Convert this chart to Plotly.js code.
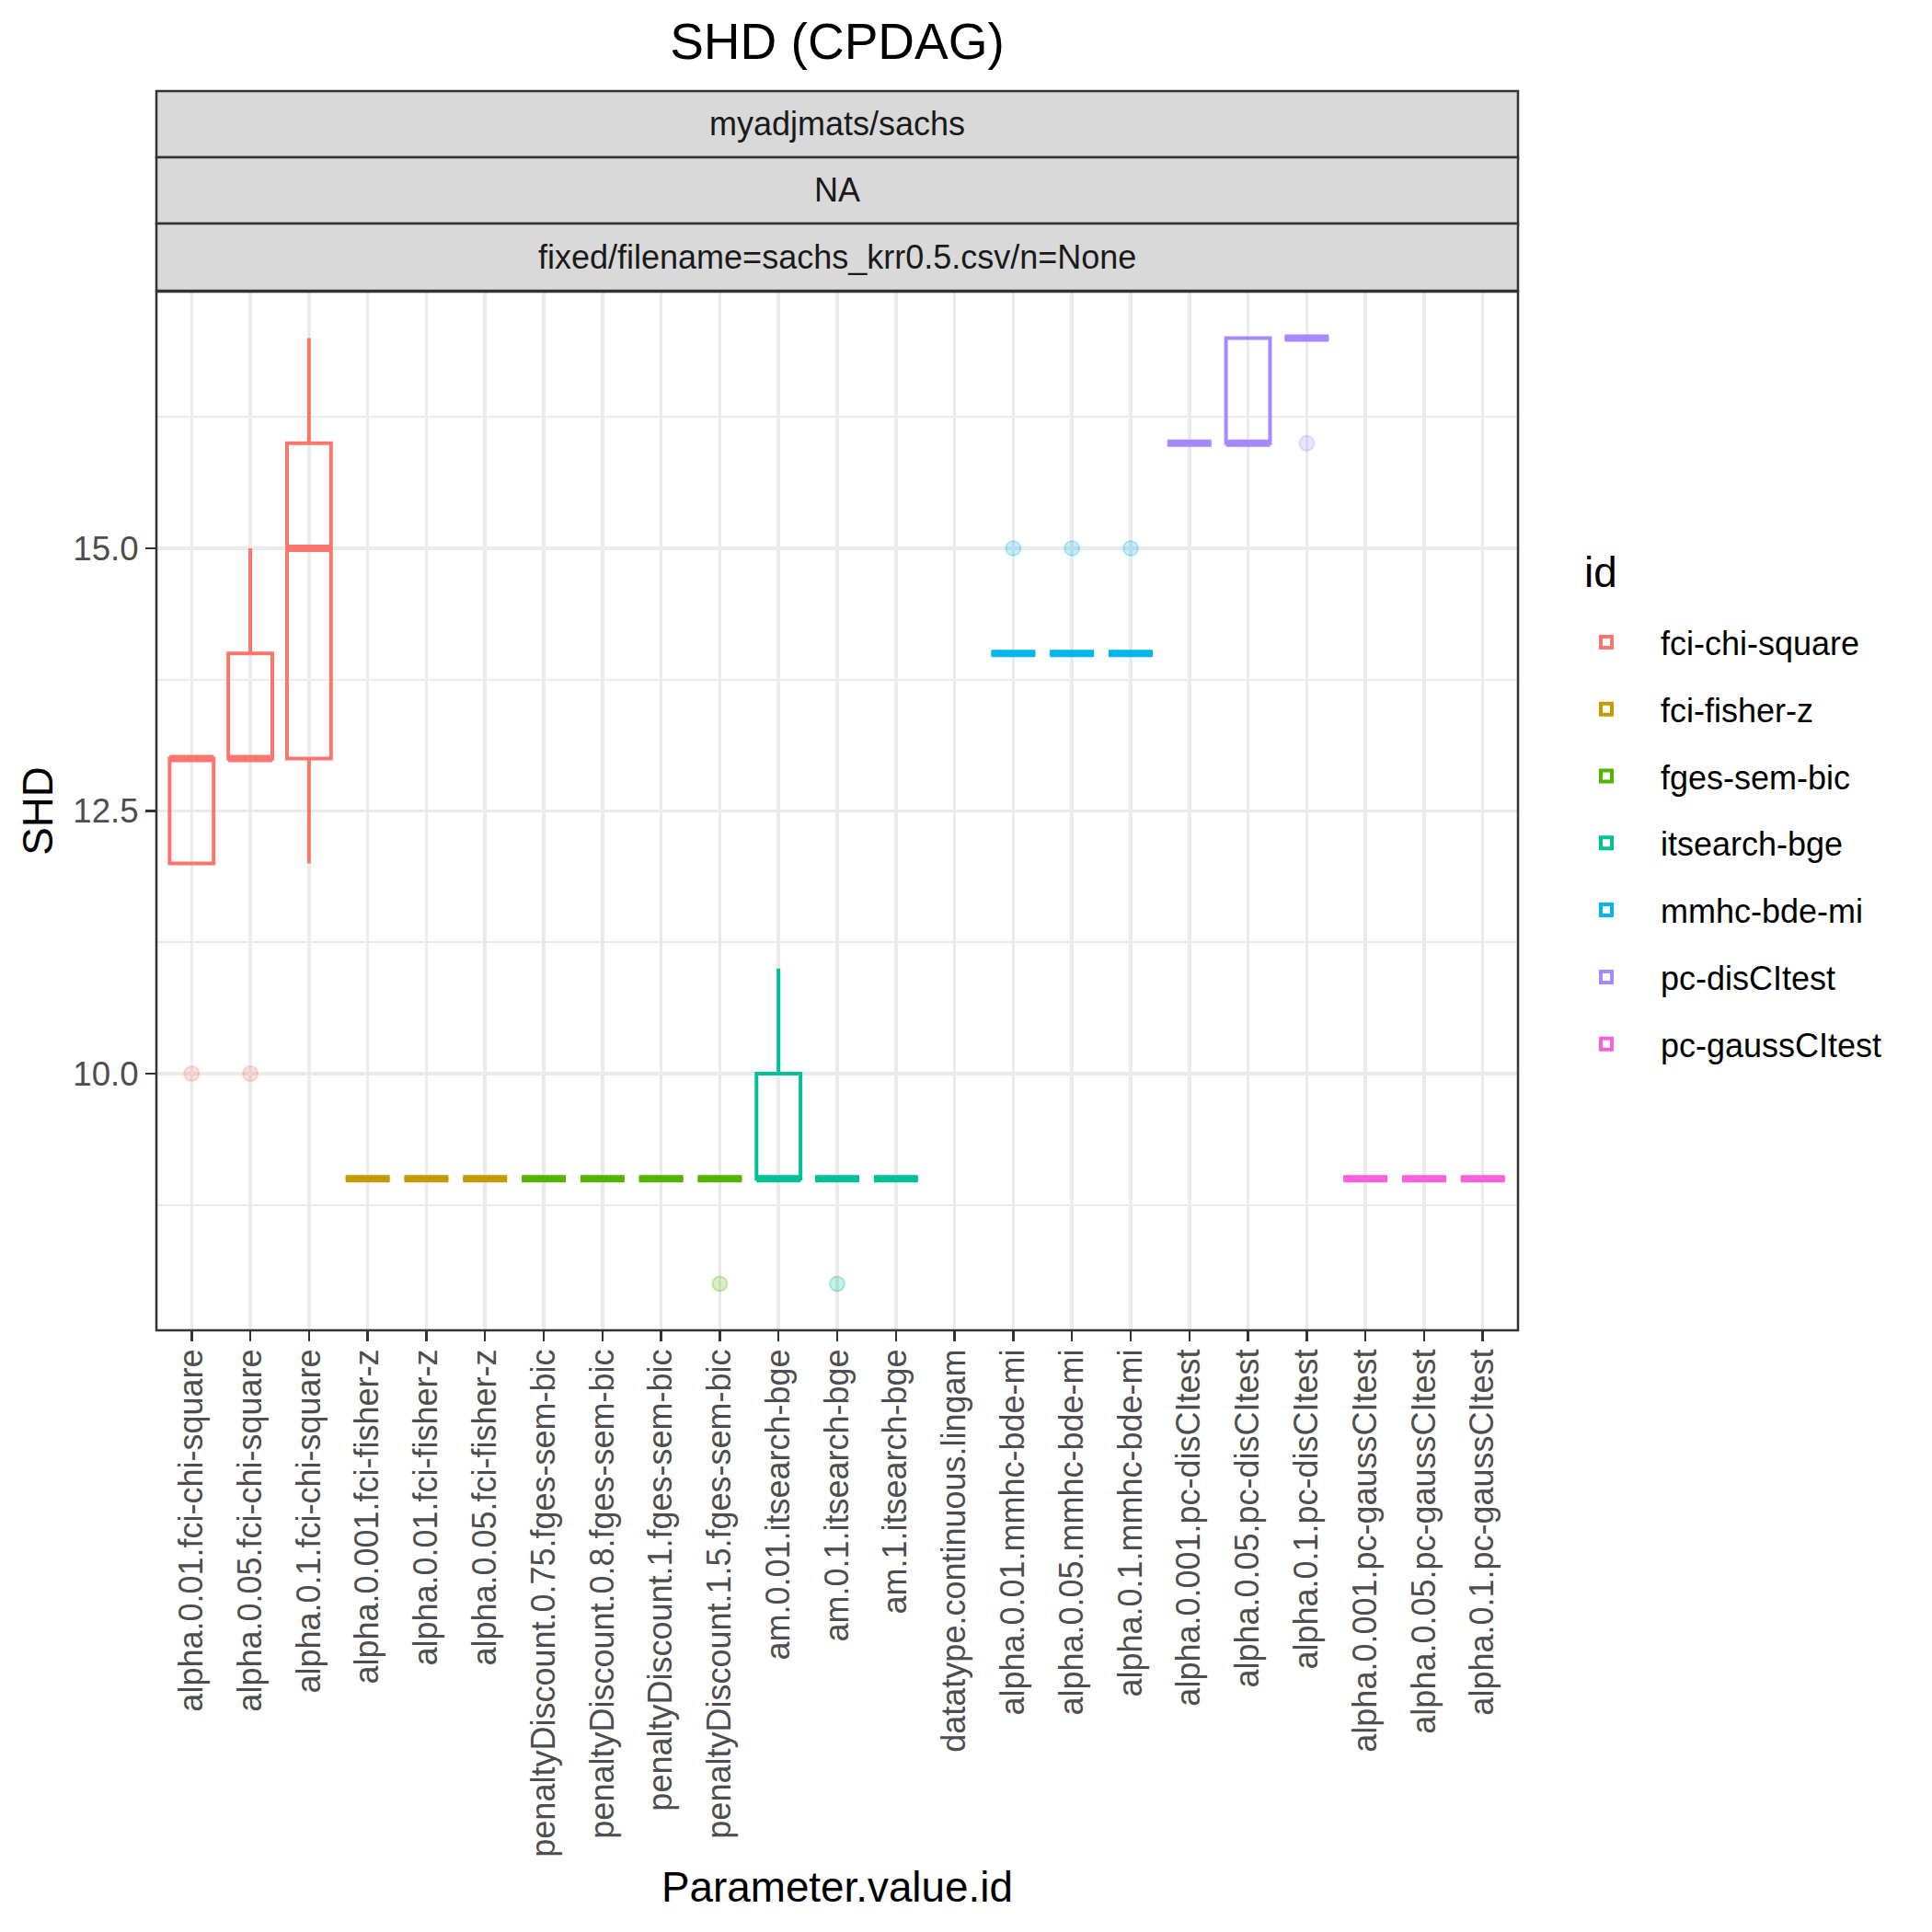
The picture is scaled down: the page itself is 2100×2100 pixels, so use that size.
<!DOCTYPE html>
<html>
<head>
<meta charset="utf-8">
<script src="https://cdn.plot.ly/plotly-3.0.1.min.js"></script>
<style>html,body{margin:0;padding:0;background:#fff;}#chart{width:2100px;height:2100px;}</style>
</head>
<body>
<div id="chart"></div>
<script>
// ---- data ----
const categories = [
  'alpha.0.01.fci-chi-square','alpha.0.05.fci-chi-square','alpha.0.1.fci-chi-square',
  'alpha.0.001.fci-fisher-z','alpha.0.01.fci-fisher-z','alpha.0.05.fci-fisher-z',
  'penaltyDiscount.0.75.fges-sem-bic','penaltyDiscount.0.8.fges-sem-bic','penaltyDiscount.1.fges-sem-bic','penaltyDiscount.1.5.fges-sem-bic',
  'am.0.01.itsearch-bge','am.0.1.itsearch-bge','am.1.itsearch-bge',
  'datatype.continuous.lingam',
  'alpha.0.01.mmhc-bde-mi','alpha.0.05.mmhc-bde-mi','alpha.0.1.mmhc-bde-mi',
  'alpha.0.001.pc-disCItest','alpha.0.05.pc-disCItest','alpha.0.1.pc-disCItest',
  'alpha.0.001.pc-gaussCItest','alpha.0.05.pc-gaussCItest','alpha.0.1.pc-gaussCItest'
];
const categoryId = [
  'fci-chi-square','fci-chi-square','fci-chi-square',
  'fci-fisher-z','fci-fisher-z','fci-fisher-z',
  'fges-sem-bic','fges-sem-bic','fges-sem-bic','fges-sem-bic',
  'itsearch-bge','itsearch-bge','itsearch-bge',
  'lingam',
  'mmhc-bde-mi','mmhc-bde-mi','mmhc-bde-mi',
  'pc-disCItest','pc-disCItest','pc-disCItest',
  'pc-gaussCItest','pc-gaussCItest','pc-gaussCItest'
];
const lowerWhisker = [12,13,12, 9,9,9, 9,9,9,9, 9,9,9, null, 14,14,14, 16,16,17, 9,9,9];
const q1Values     = [12,13,13, 9,9,9, 9,9,9,9, 9,9,9, null, 14,14,14, 16,16,17, 9,9,9];
const medianValues = [13,13,15, 9,9,9, 9,9,9,9, 9,9,9, null, 14,14,14, 16,16,17, 9,9,9];
const q3Values     = [13,14,16, 9,9,9, 9,9,9,9, 10,9,9, null, 14,14,14, 16,17,17, 9,9,9];
const upperWhisker = [13,15,17, 9,9,9, 9,9,9,9, 11,9,9, null, 14,14,14, 16,17,17, 9,9,9];

const outlierCategory = ['alpha.0.01.fci-chi-square','alpha.0.05.fci-chi-square','penaltyDiscount.1.5.fges-sem-bic',
  'am.0.1.itsearch-bge','alpha.0.01.mmhc-bde-mi','alpha.0.05.mmhc-bde-mi','alpha.0.1.mmhc-bde-mi','alpha.0.1.pc-disCItest'];
const outlierId = ['fci-chi-square','fci-chi-square','fges-sem-bic','itsearch-bge','mmhc-bde-mi','mmhc-bde-mi','mmhc-bde-mi','pc-disCItest'];
const outlierValue = [10,10,8,8,15,15,15,16];

const idNames = ['fci-chi-square','fci-fisher-z','fges-sem-bic','itsearch-bge','mmhc-bde-mi','pc-disCItest','pc-gaussCItest'];
const idColors = ['#F8766D','#C49A00','#53B400','#00C094','#00B6EB','#A58AFF','#FB61D7'];

const stripLabels = ['myadjmats/sachs','NA','fixed/filename=sachs_krr0.5.csv/n=None'];
const yTickVals = [10, 12.5, 15];
const yTickText = ['10.0','12.5','15.0'];

// ---- layout geometry (pixels) ----
const W = 2100, H = 2100;
const M = {l:170, r:450, t:317, b:654};
const plotW = W - M.l - M.r;
const plotH = H - M.t - M.b;
const py2paper = py => (H - M.b - py) / plotH;
const px2paper = px => (px - M.l) / plotW;
const stripEdges = [99, 171, 243, 316];
const FONT = '"Liberation Sans", Arial, Helvetica, sans-serif';

function rgba(hex, a){
  const n = parseInt(hex.slice(1),16);
  return `rgba(${(n>>16)&255},${(n>>8)&255},${n&255},${a})`;
}

const traces = [];
idNames.forEach((id, k) => {
  const idx = categories.map((c,i)=>i).filter(i => categoryId[i] === id);
  const pick = arr => idx.map(i => arr[i]);
  const col = idColors[k];
  traces.push({
    type:'box', name:id, legendgroup:id, showlegend:true,
    x: pick(categories), q1: pick(q1Values), median: pick(medianValues), q3: pick(q3Values),
    lowerfence: pick(lowerWhisker), upperfence: pick(upperWhisker),
    boxpoints:false, width:0.75, whiskerwidth:0,
    line:{color:col, width:4}, fillcolor:'rgba(0,0,0,0)', hoverinfo:'skip'
  });
  traces.push({
    type:'box', name:id, legendgroup:id, showlegend:false,
    x: pick(categories), q1: pick(medianValues), median: pick(medianValues), q3: pick(medianValues),
    lowerfence: pick(medianValues), upperfence: pick(medianValues),
    boxpoints:false, width:0.75, whiskerwidth:0,
    line:{color:col, width:8}, fillcolor:'rgba(0,0,0,0)', hoverinfo:'skip'
  });
  const oi = outlierId.map((o,i)=>i).filter(i => outlierId[i] === id);
  if (oi.length) {
    traces.push({
      type:'scatter', mode:'markers', name:id, legendgroup:id, showlegend:false,
      x: oi.map(i=>outlierCategory[i]), y: oi.map(i=>outlierValue[i]),
      marker:{size:16, color:rgba(col,0.22), line:{color:rgba(col,0.28), width:2}},
      hoverinfo:'skip'
    });
  }
});

const shapes = [];
const annotations = [];
stripLabels.forEach((lab, i) => {
  shapes.push({type:'rect', xref:'paper', yref:'paper', x0:0, x1:1,
    y0:py2paper(stripEdges[i+1]), y1:py2paper(stripEdges[i]),
    fillcolor:'#D9D9D9', line:{color:'#333333', width:2.5}, layer:'above'});
  annotations.push({xref:'paper', yref:'paper', x:0.5, y:py2paper((stripEdges[i]+stripEdges[i+1])/2),
    text:lab, showarrow:false, xanchor:'center', yanchor:'middle',
    font:{family:FONT, size:36, color:'#1A1A1A'}});
});
shapes.push({type:'rect', xref:'paper', yref:'paper', x0:0, x1:1, y0:0, y1:1,
  line:{color:'#333333', width:2.5}, fillcolor:'rgba(0,0,0,0)', layer:'above'});
// x axis title
annotations.push({xref:'paper', yref:'paper', x:0.5, y:py2paper(2051), text:'Parameter.value.id',
  showarrow:false, xanchor:'center', yanchor:'middle', font:{family:FONT, size:45.8, color:'#000000'}});
// legend title
annotations.push({xref:'paper', yref:'paper', x:px2paper(1720), y:py2paper(622), text:'id',
  showarrow:false, xanchor:'left', yanchor:'middle', font:{family:FONT, size:45.8, color:'#000000'}});

const layout = {
  width:W, height:H,
  margin:{l:M.l, r:M.r, t:M.t, b:M.b, autoexpand:false},
  paper_bgcolor:'#FFFFFF', plot_bgcolor:'#FFFFFF',
  font:{family:FONT, color:'#000000'},
  title:{text:'SHD (CPDAG)', x:0.5, xref:'paper', xanchor:'center',
    y:1-45/H, yref:'container', yanchor:'middle', font:{family:FONT, size:55, color:'#000000'}},
  boxmode:'overlay',
  showlegend:true,
  legend:{x:px2paper(1687), xanchor:'left', y:py2paper(668), yanchor:'top',
    font:{family:FONT, size:36, color:'#000000'}, tracegroupgap:23, itemwidth:108,
    bgcolor:'rgba(0,0,0,0)'},
  xaxis:{type:'category', categoryorder:'array', categoryarray:categories,
    range:[-0.6, categories.length-0.4], tickangle:-90,
    showgrid:true, gridcolor:'#EBEBEB', gridwidth:3.5, zeroline:false,
    ticks:'outside', ticklen:11, tickwidth:2.5, tickcolor:'#333333',
    ticklabelstandoff:-6,
    tickfont:{family:FONT, size:36, color:'#4D4D4D'},
    showline:false},
  yaxis:{range:[7.557, 17.443], tickmode:'array', tickvals:yTickVals, ticktext:yTickText,
    showgrid:true, gridcolor:'#EBEBEB', gridwidth:3.5, zeroline:false,
    minor:{tickmode:'array', tickvals:[8.75, 11.25, 13.75, 16.25], showgrid:true, gridcolor:'#EBEBEB', gridwidth:2, ticks:''},
    ticks:'outside', ticklen:11, tickwidth:2.5, tickcolor:'#333333',
    tickfont:{family:FONT, size:36.7, color:'#4D4D4D'},
    showline:false,
    title:{text:'SHD', standoff:7, font:{family:FONT, size:45.8, color:'#000000'}}},
  shapes:shapes, annotations:annotations
};

Plotly.newPlot('chart', traces, layout, {staticPlot:true, displayModeBar:false});
</script>
</body>
</html>
